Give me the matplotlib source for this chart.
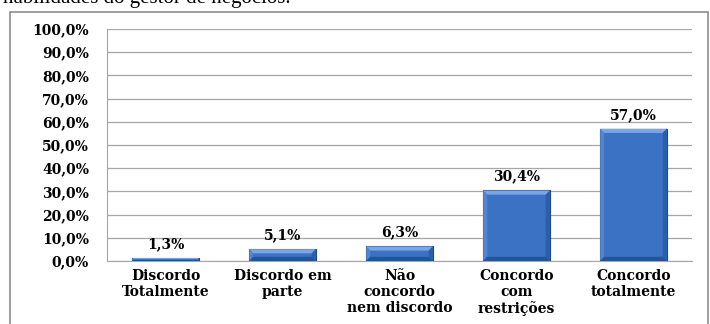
import numpy as np
import matplotlib.pyplot as plt
from matplotlib.patches import Rectangle, Polygon

categorias = ['Discordo\nTotalmente', 'Discordo em\nparte', 'Não\nconcordo\nnem discordo',
              'Concordo\ncom\nrestrições', 'Concordo\ntotalmente']
percentuais = [1.3, 5.1, 6.3, 30.4, 57.0]
yticks = np.arange(0, 101, 10)

fonte = {'family': 'DejaVu Serif', 'weight': 'bold', 'size': 10}

fig = plt.figure(figsize=(7.1, 3.24), dpi=100)

# moldura externa do grafico
fig.patches.append(Rectangle((10 / 710, -0.1), 698 / 710, 1.1 - 12 / 324, transform=fig.transFigure,
                             facecolor='white', edgecolor='#8c8c8c', linewidth=1.2, zorder=-5))
fig.text(3 / 710, 1.0 + 1 / 324, 'habilidades do gestor de negócios.', family='Liberation Serif',
         fontsize=15, va='center', ha='left')

ax = fig.add_axes([107 / 710, 1 - 261 / 324, 585 / 710, 232 / 324])
ax.set_facecolor('none')

x = np.arange(len(categorias))
bars = ax.bar(x, percentuais, width=0.57, color='#3b72c4', edgecolor='#1f4680', linewidth=0.8, zorder=3)

# chanfro nas bordas das barras
bx, by = 0.035, 1.8
for b in bars:
    x0, y0 = b.get_x(), b.get_y()
    w, h = b.get_width(), b.get_height()
    x1, y1 = x0 + w, y0 + h
    d = min(by, h * 0.35)
    e = bx * d / by
    faces = [
        ([(x0, y1), (x1, y1), (x1 - e, y1 - d), (x0 + e, y1 - d)], '#7aa6e6'),
        ([(x0, y0), (x0, y1), (x0 + e, y1 - d), (x0 + e, y0 + d)], '#4f85d2'),
        ([(x1, y0), (x1, y1), (x1 - e, y1 - d), (x1 - e, y0 + d)], '#2d5ea8'),
        ([(x0, y0), (x1, y0), (x1 - e, y0 + d), (x0 + e, y0 + d)], '#27538f'),
    ]
    for pts, cor in faces:
        ax.add_patch(Polygon(pts, closed=True, facecolor=cor, edgecolor='none', zorder=4))
    # sombra a direita
    ax.add_patch(Rectangle((x1, y0), 0.012, h, facecolor='#8a8a8a', edgecolor='none',
                           alpha=0.5, zorder=2))

for xi, v in zip(x, percentuais):
    ax.text(xi, v + 3, f'{v:.1f}%'.replace('.', ','), ha='center', va='bottom', **fonte)

ax.set_xlim(-0.5, len(categorias) - 0.5)
ax.set_ylim(0, 100)
ax.set_yticks(yticks)
ax.set_yticklabels([f'{t:.1f}%'.replace('.', ',') for t in yticks], **fonte)
ax.set_xticks(x)
ax.set_xticklabels(categorias, linespacing=1.15, va='top', **fonte)
ax.tick_params(axis='both', length=0, pad=6)
ax.tick_params(axis='y', pad=13)
ax.grid(axis='y', color='#a6a6a6', linewidth=0.9, zorder=0)
for s in ['top', 'right']:
    ax.spines[s].set_visible(False)
for s in ['left', 'bottom']:
    ax.spines[s].set_color('#a6a6a6')
ax.set_axisbelow(True)

fig.savefig('out.png', dpi=100)
